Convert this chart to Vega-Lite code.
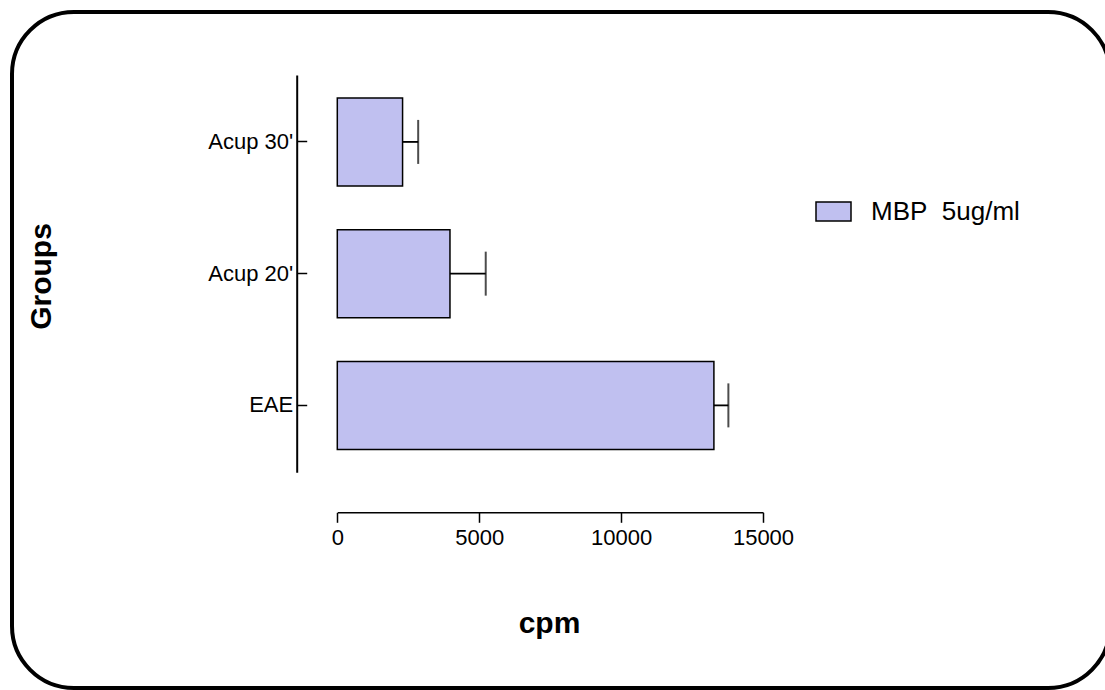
{
  "$schema": "https://vega.github.io/schema/vega-lite/v6.json",
  "width": 1098,
  "height": 676,
  "autosize": {"type": "none"},
  "padding": {"left": 12, "top": 12, "right": 0, "bottom": 2},
  "background": "white",
  "config": {
    "view": {"stroke": "black", "strokeWidth": 4, "cornerRadius": 62, "fill": "white"},
    "font": "Liberation Sans",
    "axis": {"grid": false, "domainColor": "black", "tickColor": "black", "labelColor": "black", "titleColor": "black", "labelFont": "Liberation Sans", "titleFont": "Liberation Sans"}
  },
  "data": {
    "values": [
      {"group": "Acup 30'", "cpm": 2300, "err": 2850, "series": "MBP\u00a0 5ug/ml"},
      {"group": "Acup 20'", "cpm": 3970, "err": 5230, "series": "MBP\u00a0 5ug/ml"},
      {"group": "EAE", "cpm": 13270, "err": 13780, "series": "MBP\u00a0 5ug/ml"}
    ]
  },
  "encoding": {
    "y": {
      "field": "group",
      "type": "nominal",
      "sort": ["Acup 30'", "Acup 20'", "EAE"],
      "scale": {"range": [63, 460.3], "paddingInner": 0.332, "paddingOuter": 0.174},
      "axis": {
        "title": "Groups",
        "offset": -284.7,
        "domainWidth": 2,
        "tickWidth": 1.5,
        "tickSize": -10,
        "labelFontSize": 22,
        "labelPadding": 14,
        "titleFontSize": 30,
        "titleFontWeight": "bold",
        "titleAngle": -90,
        "titleX": -255,
        "titleY": 264,
        "titleAlign": "center",
        "titleBaseline": "middle"
      }
    }
  },
  "layer": [
    {
      "mark": {"type": "bar", "stroke": "black", "strokeWidth": 1.5},
      "encoding": {
        "x": {
          "field": "cpm",
          "type": "quantitative",
          "scale": {"domain": [0, 15000], "range": [325.3, 751], "nice": false, "zero": true},
          "axis": {
            "title": "cpm",
            "offset": -175.7,
            "values": [0, 5000, 10000, 15000],
            "format": "d",
            "domainWidth": 1.5,
            "tickWidth": 1.5,
            "tickSize": 10,
            "labelFontSize": 22,
            "labelPadding": 5,
            "labelFlush": false,
            "titleFontSize": 30,
            "titleFontWeight": "bold",
            "titleX": 537,
            "titleY": 120,
            "titleAlign": "center",
            "titleBaseline": "alphabetic"
          }
        },
        "color": {
          "field": "series",
          "type": "nominal",
          "scale": {"range": ["#C0C0F0"]},
          "legend": {
            "title": null,
            "orient": "none",
            "legendX": 803,
            "legendY": 181,
            "symbolType": "M-1,-0.543H1V0.543H-1Z",
            "symbolSize": 1225,
            "symbolStrokeColor": "black",
            "symbolStrokeWidth": 1.5,
            "symbolOpacity": 1,
            "labelFontSize": 26,
            "labelColor": "black",
            "labelOffset": 19
          }
        }
      }
    },
    {
      "mark": {"type": "rule", "color": "black", "strokeWidth": 1.8},
      "encoding": {
        "x": {"field": "cpm", "type": "quantitative"},
        "x2": {"field": "err"}
      }
    },
    {
      "mark": {"type": "tick", "orient": "vertical", "color": "black", "size": 44, "thickness": 2},
      "encoding": {
        "x": {"field": "err", "type": "quantitative"}
      }
    }
  ]
}
